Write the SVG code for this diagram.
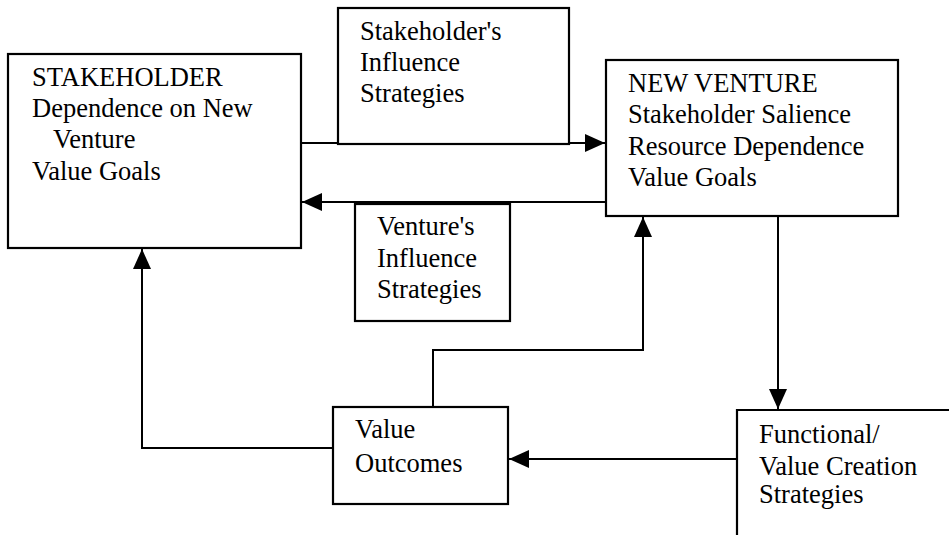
<svg xmlns="http://www.w3.org/2000/svg" width="949" height="545" viewBox="0 0 949 545">
<style>
.box{fill:#fff;stroke:#000;stroke-width:2.2}
.line{fill:none;stroke:#000;stroke-width:2}
.t{font-family:'Liberation Serif','DejaVu Serif','Times New Roman',serif;font-size:26.5px;fill:#000}
</style>
<defs>
<marker id="ah" viewBox="0 0 20 18" refX="20" refY="9" markerWidth="20" markerHeight="18" markerUnits="userSpaceOnUse" orient="auto">
<path d="M0,0 L20,9 L0,18 Z" fill="#000"/>
</marker>
</defs>
<rect width="949" height="545" fill="#fff"/>
<g id="connectors">
<path class="line" d="M301,143 H605" marker-end="url(#ah)"/>
<path class="line" d="M606,202 H302" marker-end="url(#ah)"/>
<path class="line" d="M778,216 V409" marker-end="url(#ah)"/>
<path class="line" d="M737,459 H509" marker-end="url(#ah)"/>
<path class="line" d="M333,448 H142 V249" marker-end="url(#ah)"/>
<path class="line" d="M433,407 V350 H643 V217" marker-end="url(#ah)"/>
</g>
<g class="t" font-family="Liberation Serif, DejaVu Serif, serif">
<g id="stakeholder">
<rect class="box" x="8" y="54" width="293" height="194"/>
<text x="32" y="86">STAKEHOLDER</text>
<text x="32" y="117">Dependence on New</text>
<text x="53" y="148">Venture</text>
<text x="32" y="180">Value Goals</text>
</g>
<g id="stakeholder-influence">
<rect class="box" x="338" y="8" width="231" height="136"/>
<text x="360" y="40">Stakeholder's</text>
<text x="360" y="71">Influence</text>
<text x="360" y="102">Strategies</text>
</g>
<g id="new-venture">
<rect class="box" x="606" y="60" width="292" height="156"/>
<text x="628" y="92">NEW VENTURE</text>
<text x="628" y="123">Stakeholder Salience</text>
<text x="628" y="155">Resource Dependence</text>
<text x="628" y="186">Value Goals</text>
</g>
<g id="venture-influence">
<rect class="box" x="355" y="204" width="155" height="117"/>
<text x="377" y="235">Venture's</text>
<text x="377" y="267">Influence</text>
<text x="377" y="298">Strategies</text>
</g>
<g id="value-outcomes">
<rect class="box" x="333" y="407" width="175" height="97"/>
<text x="355" y="438">Value</text>
<text x="355" y="472">Outcomes</text>
</g>
<g id="functional">
<path class="box" d="M949,410 H737 V535" style="fill:none"/>
<text x="759" y="443">Functional/</text>
<text x="759" y="475">Value Creation</text>
<text x="759" y="503">Strategies</text>
</g>
</g>
</svg>
